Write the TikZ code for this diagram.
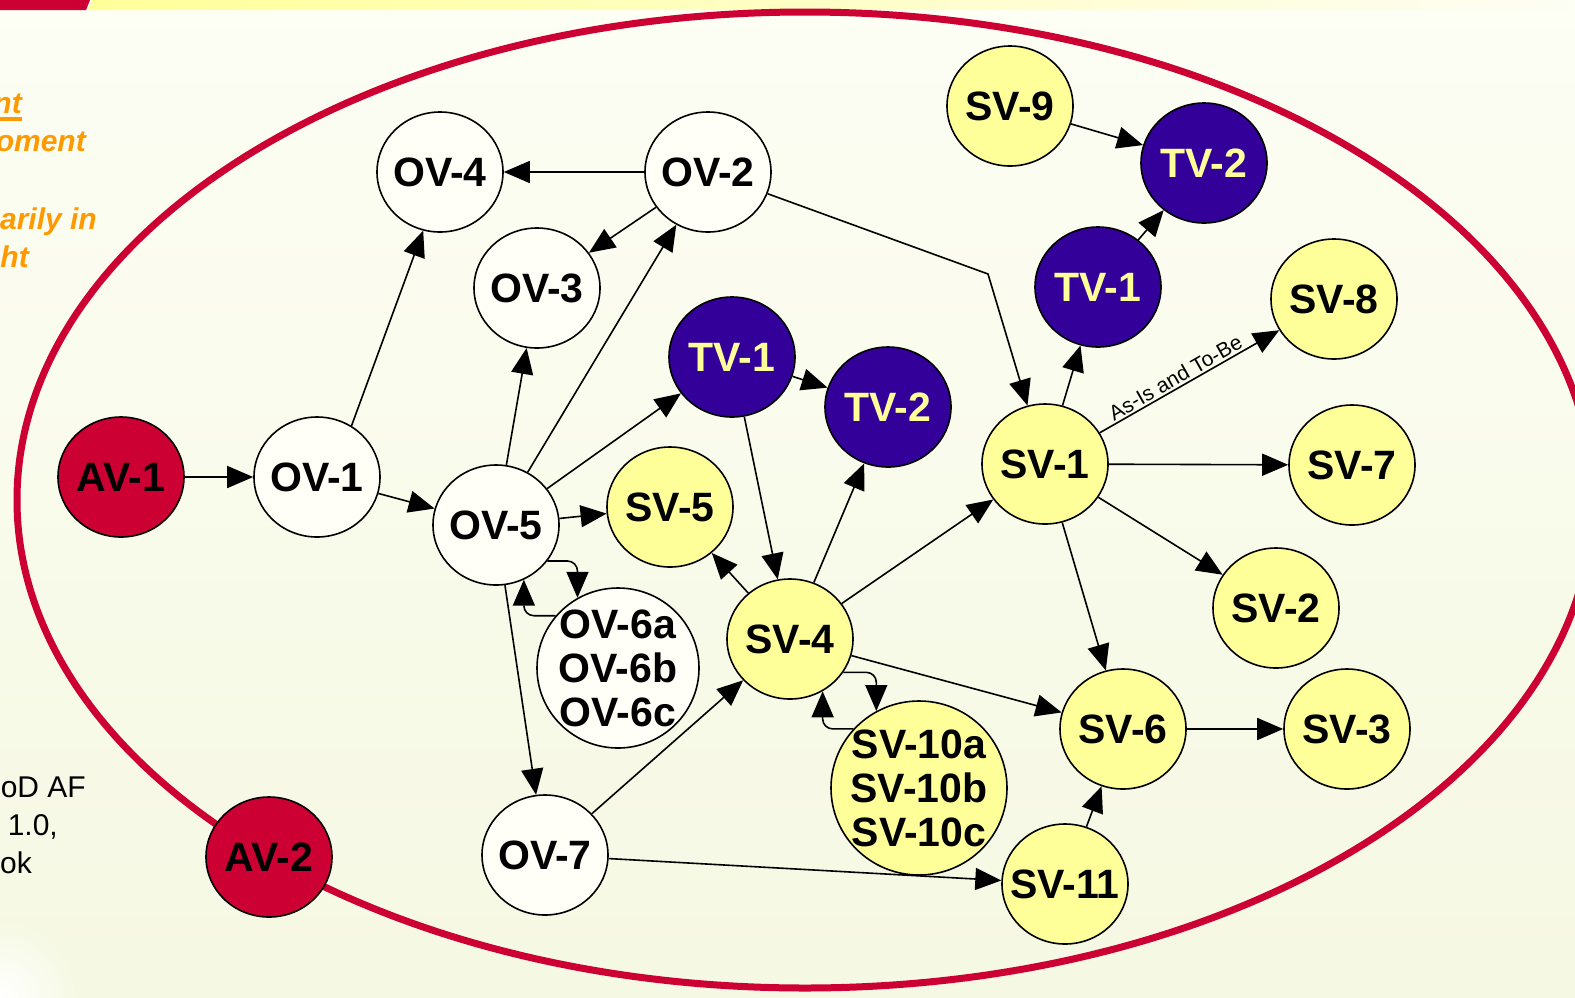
\documentclass[tikz,border=0pt]{standalone}
\usepackage{fontspec}
\setmainfont{Liberation Sans}
\usetikzlibrary{positioning}
\usetikzlibrary{calc}
\usetikzlibrary{arrows.meta,shapes}

\definecolor{avred}{RGB}{204,0,51}
\definecolor{tvblue}{RGB}{51,0,153}
\definecolor{svyellow}{RGB}{255,255,153}
\definecolor{ovwhite}{RGB}{255,255,247}
\definecolor{bgtop}{RGB}{253,254,244}
\definecolor{bgbot}{RGB}{245,248,226}
\definecolor{noteorange}{RGB}{255,153,0}

\tikzset{
  view/.style={ellipse,draw=black,line width=1.6pt,minimum width=126pt,minimum height=120pt,
    inner xsep=-16pt,inner ysep=-10pt,align=center,font=\fontsize{41}{44}\selectfont\bfseries},
  ovnode/.style={view,fill=ovwhite},
  svnode/.style={view,fill=svyellow},
  tvnode/.style={view,fill=tvblue,text=svyellow},
  avnode/.style={view,fill=avred},
  arr/.style={line width=1.6pt,-{Triangle[length=26pt,width=22pt]}},
  note/.style={inner sep=0pt,text=noteorange,font=\fontsize{30}{36}\selectfont\bfseries\itshape},
  refnote/.style={inner sep=0pt,font=\fontsize{30}{36}\selectfont},
}

\begin{document}
\begin{tikzpicture}[x=1pt,y=-1pt]
\useasboundingbox (0,0) rectangle (1575,997);
\clip (0,0) rectangle (1575,997);
% backdrop
\shade[top color=bgtop,bottom color=bgbot] (0,0) rectangle (1575,997);
\shade[inner color=white,outer color=bgbot] (0,997) circle (80);
\fill[avred] (0,0) -- (90,0) -- (86,10) -- (0,10) -- cycle;
\shade[left color=svyellow,right color=bgtop] (92,0) -- (1575,0) -- (1575,10) -- (88,10) -- cycle;
\draw[avred,line width=7pt] (805,500) ellipse [x radius=788,y radius=488];

% cut-off notes on the left
\node[note,anchor=base east](noteA) at (22,113){nt};
\draw[noteorange,line width=3.5pt] ([yshift=-6pt]noteA.base west) -- ([yshift=-6pt]noteA.base east);
\node[note,anchor=base east](noteB) at (86,151){oment};
\node[note,anchor=base east](noteC) at (97,229){arily in};
\node[note,anchor=base east](noteD) at (29,267){ht};
\node[refnote,anchor=base east](refA) at (86,797){oD AF};
\node[refnote,anchor=base east](refB) at (58,835){1.0,};
\node[refnote,anchor=base east](refC) at (32,873){ok};

% views
\node[avnode](AV1) at (121,477){AV-1};
\node[avnode](AV2) at (269,857){AV-2};
\node[ovnode](OV1) at (317,477){OV-1};
\node[ovnode](OV2) at (708,172){OV-2};
\node[ovnode](OV3) at (537,288){OV-3};
\node[ovnode](OV4) at (440,172){OV-4};
\node[ovnode](OV5) at (496,525){OV-5};
\node[ovnode,minimum width=162pt,minimum height=160pt](OV6) at (618,668){OV-6a\\OV-6b\\OV-6c};
\node[ovnode](OV7) at (545,855){OV-7};
\node[tvnode](TV1a) at (732,357){TV-1};
\node[tvnode](TV2a) at (888,407){TV-2};
\node[tvnode](TV1b) at (1098,287){TV-1};
\node[tvnode](TV2b) at (1204,163){TV-2};
\node[svnode](SV1) at (1045,464){SV-1};
\node[svnode](SV2) at (1276,608){SV-2};
\node[svnode](SV3) at (1347,729){SV-3};
\node[svnode](SV4) at (790,639){SV-4};
\node[svnode](SV5) at (670,507){SV-5};
\node[svnode](SV6) at (1123,729){SV-6};
\node[svnode](SV7) at (1352,465){SV-7};
\node[svnode](SV8) at (1334,299){SV-8};
\node[svnode](SV9) at (1010,106){SV-9};
\node[svnode,minimum width=176pt,minimum height=174pt](SV10) at (919,788){SV-10a\\SV-10b\\SV-10c};
\node[svnode](SV11) at (1065,884){SV-11};
\coordinate (bendA) at (988,274);

\path
(AV1) edge[arr] (OV1)
(OV1) edge[arr] (OV5)
(OV1.56) edge[arr] (OV4.-106)
(OV2) edge[arr] (OV4)
(OV2) edge[arr] (OV3)
(OV5) edge[arr] (OV3)
(OV5) edge[arr] (OV2)
(OV5) edge[arr] (TV1a)
(OV5) edge[arr] (SV5)
(OV5) edge[arr] (OV7)
(TV1a) edge[arr] (TV2a)
(TV1a) edge[arr] (SV4)
(SV4) edge[arr] (TV2a)
(SV4) edge[arr] (SV5)
(SV4) edge[arr] (SV1)
(SV4) edge[arr] (SV6)
(OV7) edge[arr] (SV4)
(OV7) edge[arr] (SV11)
(SV1) edge[arr] (TV1b)
(TV1b) edge[arr] (TV2b)
(SV9) edge[arr] (TV2b)
(SV1) edge[arr] node[sloped,above=2pt,inner sep=0pt,pos=0.45,font=\fontsize{21}{21}\selectfont]{As-Is and To-Be} (SV8)
(SV1) edge[arr] (SV7)
(SV1) edge[arr] (SV2)
(SV1) edge[arr] (SV6)
(SV6) edge[arr] (SV3)
(SV11) edge[arr] (SV6);

\draw[arr] (OV2) -- (bendA) -- (SV1);
\draw[arr,rounded corners=10pt] (OV5.-35) -| (OV6.120);
\draw[arr,rounded corners=10pt] (OV6.140) -| (OV5.-63);
\draw[arr,rounded corners=10pt] (SV4.-32) -| (SV10.119);
\draw[arr,rounded corners=10pt] (SV10.138) -| (SV4.-58);
\end{tikzpicture}
\end{document}
